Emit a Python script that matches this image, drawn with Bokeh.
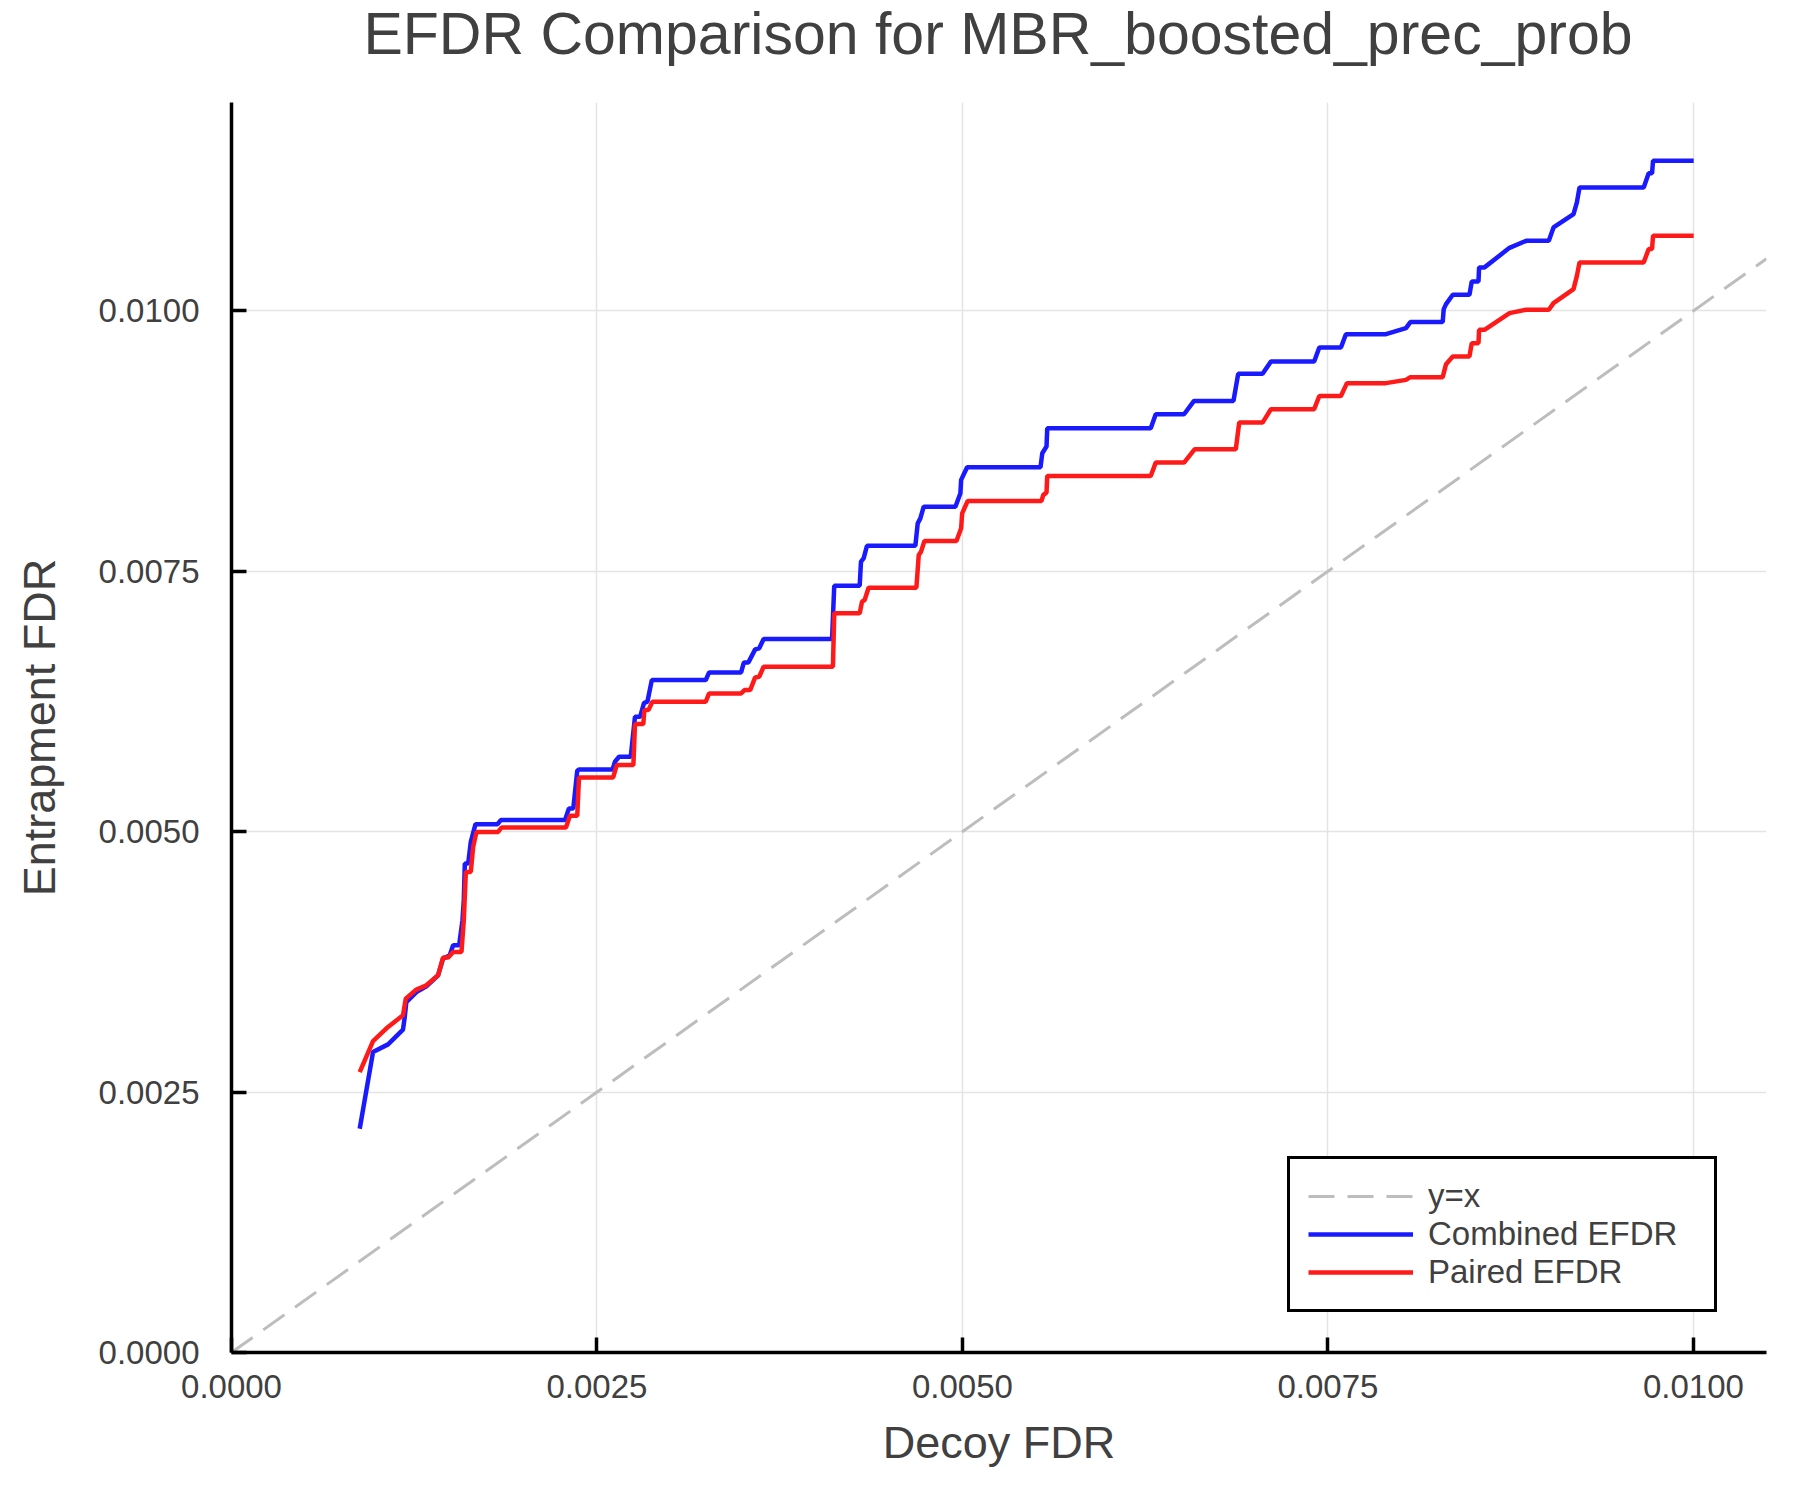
from bokeh.embed import file_html
from bokeh.layouts import column
from bokeh.models import Div, FixedTicker, PrintfTickFormatter, Range1d
from bokeh.plotting import figure
from bokeh.resources import INLINE

# decoy FDR (x) vs entrapment FDR (y)
combined_x = [0.000877, 0.000968, 0.001071, 0.001173, 0.001185, 0.001196, 0.001265, 0.001333,
              0.001413, 0.001447, 0.001493, 0.001516, 0.001557, 0.001580, 0.001589, 0.001596,
              0.001619, 0.001637, 0.001669, 0.001820, 0.001842, 0.002281, 0.002308, 0.002338,
              0.002365, 0.002377, 0.002607, 0.002623, 0.002651, 0.002731, 0.002760, 0.002795,
              0.002822, 0.002845, 0.002875, 0.003244, 0.003267, 0.003486, 0.003505, 0.003536,
              0.003582, 0.003610, 0.003640, 0.004108, 0.004123, 0.004297, 0.004306, 0.004324,
              0.004347, 0.004678, 0.004694, 0.004712, 0.004735, 0.004952, 0.004986, 0.004991,
              0.005032, 0.005534, 0.005546, 0.005575, 0.005580, 0.006288, 0.006322, 0.006516,
              0.006584, 0.006854, 0.006886, 0.007053, 0.007110, 0.007406, 0.007441, 0.007589,
              0.007623, 0.007897, 0.008034, 0.008064, 0.008285, 0.008292, 0.008308, 0.008354,
              0.008468, 0.008484, 0.008530, 0.008534, 0.008571, 0.008742, 0.008856, 0.009011,
              0.009043, 0.009180, 0.009203, 0.009221, 0.009660, 0.009694, 0.009717, 0.009724,
              0.010002]
combined_y = [0.002148, 0.002884, 0.002958, 0.003099, 0.003220, 0.003364, 0.003460, 0.003515,
              0.003621, 0.003781, 0.003813, 0.003909, 0.003909, 0.004150, 0.004342, 0.004694,
              0.004694, 0.004902, 0.005072, 0.005072, 0.005111, 0.005111, 0.005223, 0.005223,
              0.005584, 0.005597, 0.005597, 0.005671, 0.005719, 0.005719, 0.006103, 0.006103,
              0.006237, 0.006247, 0.006455, 0.006455, 0.006529, 0.006529, 0.006625, 0.006625,
              0.006750, 0.006760, 0.006849, 0.006849, 0.007361, 0.007361, 0.007592, 0.007624,
              0.007745, 0.007745, 0.007960, 0.008008, 0.008120, 0.008120, 0.008249, 0.008377,
              0.008499, 0.008499, 0.008633, 0.008697, 0.008873, 0.008873, 0.009007, 0.009007,
              0.009135, 0.009135, 0.009395, 0.009395, 0.009513, 0.009513, 0.009648, 0.009648,
              0.009776, 0.009776, 0.009834, 0.009892, 0.009892, 0.010016, 0.010064, 0.010154,
              0.010154, 0.010282, 0.010282, 0.010417, 0.010417, 0.010605, 0.010672, 0.010672,
              0.010801, 0.010929, 0.011041, 0.011185, 0.011185, 0.011320, 0.011320, 0.011441,
              0.011441]

paired_x = [0.000877, 0.000968, 0.001071, 0.001173, 0.001192, 0.001265, 0.001333, 0.001413,
            0.001447, 0.001482, 0.001516, 0.001573, 0.001589, 0.001603, 0.001637, 0.001653,
            0.001676, 0.001824, 0.001847, 0.002288, 0.002315, 0.002365, 0.002377, 0.002611,
            0.002635, 0.002749, 0.002760, 0.002817, 0.002824, 0.002852, 0.002879, 0.003244,
            0.003267, 0.003486, 0.003509, 0.003548, 0.003582, 0.003610, 0.003640, 0.004114,
            0.004123, 0.004297, 0.004313, 0.004331, 0.004358, 0.004685, 0.004701, 0.004717,
            0.004740, 0.004959, 0.004991, 0.004998, 0.005036, 0.005541, 0.005553, 0.005575,
            0.005580, 0.006288, 0.006322, 0.006516, 0.006589, 0.006870, 0.006893, 0.007053,
            0.007110, 0.007406, 0.007441, 0.007589, 0.007630, 0.007897, 0.008034, 0.008064,
            0.008285, 0.008308, 0.008354, 0.008468, 0.008484, 0.008530, 0.008534, 0.008571,
            0.008742, 0.008856, 0.009011, 0.009043, 0.009180, 0.009203, 0.009221, 0.009660,
            0.009694, 0.009717, 0.009724, 0.010002]
paired_y = [0.002692, 0.002990, 0.003125, 0.003237, 0.003397, 0.003484, 0.003525, 0.003621,
            0.003791, 0.003791, 0.003845, 0.003845, 0.004150, 0.004614, 0.004614, 0.004854,
            0.004998, 0.004998, 0.005040, 0.005040, 0.005152, 0.005152, 0.005521, 0.005521,
            0.005639, 0.005639, 0.006033, 0.006033, 0.006167, 0.006167, 0.006247, 0.006247,
            0.006327, 0.006327, 0.006359, 0.006359, 0.006481, 0.006487, 0.006583, 0.006583,
            0.007096, 0.007096, 0.007208, 0.007224, 0.007342, 0.007342, 0.007656, 0.007688,
            0.007791, 0.007791, 0.007912, 0.008056, 0.008175, 0.008175, 0.008233, 0.008255,
            0.008415, 0.008415, 0.008543, 0.008543, 0.008672, 0.008672, 0.008927, 0.008927,
            0.009056, 0.009056, 0.009183, 0.009183, 0.009306, 0.009306, 0.009337, 0.009363,
            0.009363, 0.009488, 0.009562, 0.009562, 0.009690, 0.009690, 0.009818, 0.009818,
            0.009978, 0.010010, 0.010010, 0.010074, 0.010208, 0.010336, 0.010465, 0.010465,
            0.010593, 0.010593, 0.010721, 0.010721]

diag = [0.0, 0.0105]
ticks = [0.0, 0.0025, 0.005, 0.0075, 0.01]
title = "EFDR Comparison for MBR_boosted_prec_prob"

FONT = "Liberation Sans"
TXT = "#404040"

# title as a div so it can sit closer to the top edge than bokeh's title panel allows
head = Div(text=title, width=1784, height=70,
           styles={"font-family": FONT, "font-size": "59px", "color": TXT,
                   "line-height": "1", "text-align": "center", "padding-left": "212px",
                   "padding-top": "5px", "box-sizing": "border-box", "margin": "0"})

p = figure(width=1784, height=1414, output_backend="svg", toolbar_location=None,
           x_range=Range1d(0, 0.0105), y_range=Range1d(0, 0.0120),
           x_axis_label="Decoy FDR", y_axis_label="Entrapment FDR",
           min_border_left=231, min_border_right=18, min_border_top=32, min_border_bottom=132)
p.outline_line_color = None
p.background_fill_color = "white"

p.line(diag, diag, line_color="#bdbdbd", line_width=3, line_dash="26 13", legend_label="y=x")
p.line(combined_x, combined_y, line_color="#1a1aff", line_width=4.5, legend_label="Combined EFDR")
p.line(paired_x, paired_y, line_color="#ff1a1a", line_width=4.5, legend_label="Paired EFDR")

for ax in (p.xaxis[0], p.yaxis[0]):
    ax.ticker = FixedTicker(ticks=ticks)
    ax.formatter = PrintfTickFormatter(format="%.4f")
    ax.axis_line_color = "black"
    ax.axis_line_width = 3.5
    ax.major_tick_in = 15
    ax.major_tick_out = 0
    ax.major_tick_line_width = 3.5
    ax.major_tick_line_color = "black"
    ax.minor_tick_line_color = None
    ax.major_label_text_font = FONT
    ax.major_label_text_font_size = "33px"
    ax.major_label_text_color = TXT
    ax.axis_label_text_font = FONT
    ax.axis_label_text_font_size = "45px"
    ax.axis_label_text_font_style = "normal"
    ax.axis_label_text_color = TXT

p.xaxis.major_label_standoff = 22
p.xaxis.axis_label_standoff = 16
p.yaxis.major_label_standoff = 32
p.yaxis.axis_label_standoff = 31

p.grid.grid_line_color = "#e4e4e4"
p.grid.grid_line_width = 1.5

lg = p.legend[0]
lg.location = (1056, 40)
lg.margin = 0
lg.padding = 18
lg.spacing = 0
lg.label_height = 36
lg.glyph_height = 36
lg.glyph_width = 105
lg.label_standoff = 15
lg.label_width = 268
lg.label_text_font = FONT
lg.label_text_font_size = "33px"
lg.label_text_color = TXT
lg.border_line_color = "black"
lg.border_line_alpha = 1.0
lg.border_line_width = 3
lg.background_fill_alpha = 1.0

page = column(head, p, spacing=0)
open("out.html", "w").write(file_html(page, INLINE))
